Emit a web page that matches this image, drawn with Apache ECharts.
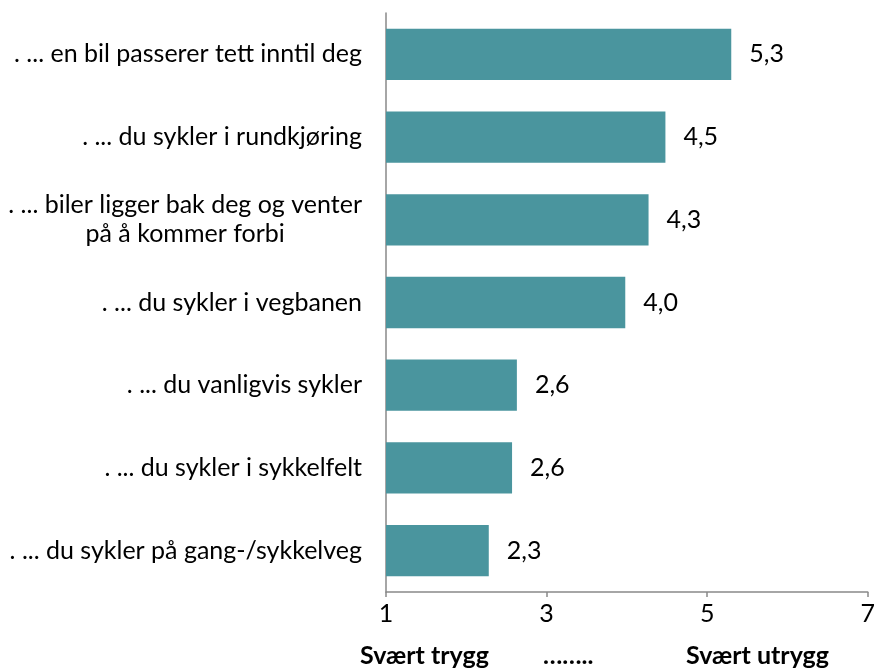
<!DOCTYPE html>
<html><head><meta charset="utf-8">
<script src="https://cdn.jsdelivr.net/npm/echarts@6/dist/echarts.min.js"></script>
<style>html,body{margin:0;padding:0;background:#fff}#c{width:878px;height:670px}</style>
</head><body><div id="c"></div>
<script>
const categories = [
  ". ... en bil passerer tett inntil deg",
  ". ... du sykler i rundkjøring",
  ". ... biler ligger bak deg og venter\npå å kommer forbi",
  ". ... du sykler i vegbanen",
  ". ... du vanligvis sykler",
  ". ... du sykler i sykkelfelt",
  ". ... du sykler på gang-/sykkelveg"
];
const values = [5.3, 4.48, 4.27, 3.98, 2.63, 2.57, 2.28];
const xTicks = [1, 3, 5, 7];
const scaleTexts = ["Svært trygg", "……..", "Svært utrygg"];

const FONT = 'Lato';
const FS = 25;
const chart = echarts.init(document.getElementById('c'));
chart.setOption({
  animation: false,
  grid: {left: 386, right: 6, top: 13, bottom: 78, containLabel: false},
  xAxis: {
    type: 'value', min: 1, max: 7, interval: 2,
    axisLine: {show: true, lineStyle: {color: '#898989', width: 1.5}},
    axisTick: {show: true, length: 5, lineStyle: {color: '#898989', width: 1.5}},
    splitLine: {show: false},
    axisLabel: {color: '#000', fontSize: FS, fontFamily: FONT, margin: 9,
      formatter: v => xTicks.includes(v) ? String(v) : ''}
  },
  yAxis: {
    type: 'category', data: categories, inverse: true,
    axisLine: {show: true, lineStyle: {color: '#898989', width: 1.5}},
    axisTick: {show: false},
    axisLabel: {
      color: '#000', fontSize: FS, fontFamily: FONT, margin: 24, lineHeight: 29,
      formatter: v => v.split('\n').map(s => '{c|' + s + '}').join('\n'),
      rich: {c: {align: 'center', fontSize: FS, fontFamily: FONT, color: '#000', lineHeight: 29}}
    }
  },
  series: [{
    type: 'bar', data: values, barCategoryGap: '38%',
    itemStyle: {color: '#4A959E'},
    label: {show: true, position: 'right', distance: 18, color: '#000', fontSize: FS, fontFamily: FONT,
      formatter: p => p.value.toFixed(1).replace('.', ',')}
  }],
  graphic: [
    {type: 'text', left: 360, top: 643, style: {text: scaleTexts[0], font: 'bold ' + FS + 'px ' + FONT, fill: '#000'}},
    {type: 'text', left: 543, top: 643, style: {text: scaleTexts[1], font: 'bold ' + FS + 'px ' + FONT, fill: '#000'}},
    {type: 'text', left: 686, top: 643, style: {text: scaleTexts[2], font: 'bold ' + FS + 'px ' + FONT, fill: '#000'}}
  ]
});
</script></body></html>
